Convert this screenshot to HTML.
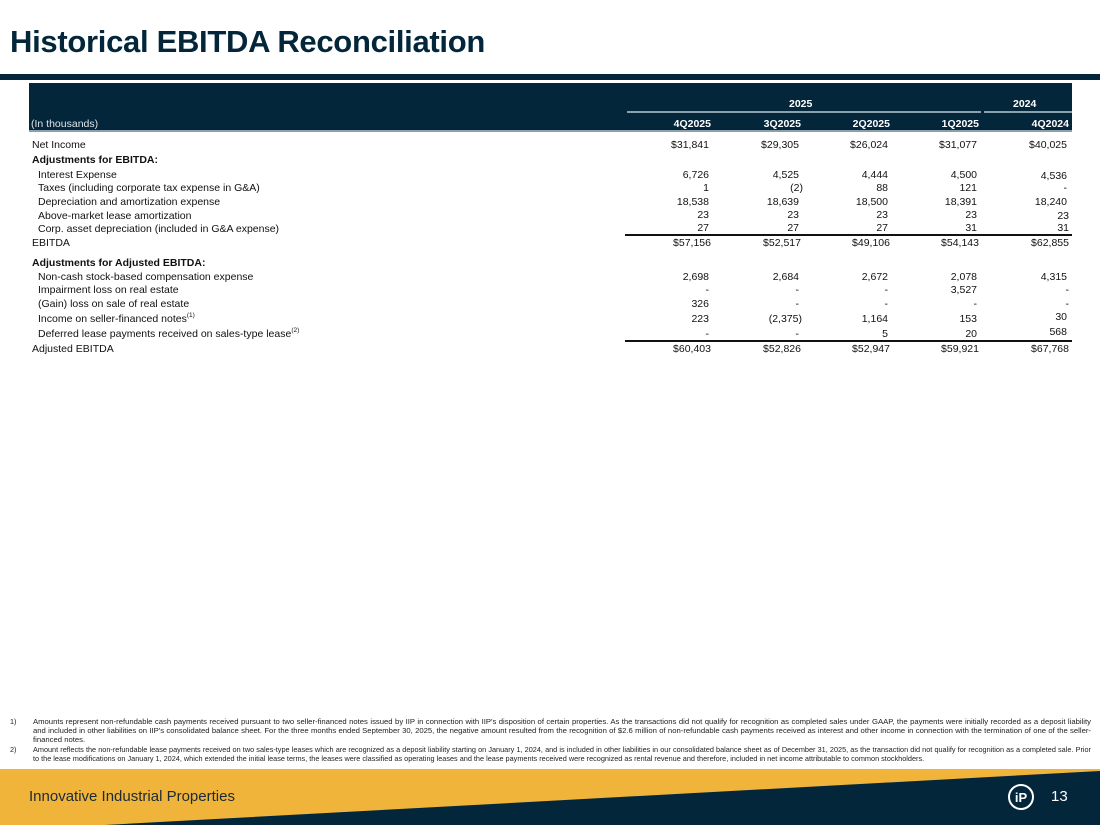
<!DOCTYPE html>
<html><head><meta charset="utf-8"><style>
*{margin:0;padding:0;box-sizing:border-box}
body{width:1100px;height:825px;overflow:hidden;background:#fff;font-family:"Liberation Sans",sans-serif;color:#111;position:relative}
.a{position:absolute;white-space:nowrap}
h1{position:absolute;left:10px;top:24px;font-size:31px;font-weight:bold;color:#03263a;letter-spacing:-0.3px}
.lbl{position:absolute;left:32px;font-size:10.5px;line-height:12px}
.ind{left:38px}
.b{font-weight:bold}
.v{position:absolute;font-size:10.5px;line-height:12px;text-align:right;width:80px}
.hd{position:absolute;font-size:10.5px;font-weight:bold;color:#fff;text-align:right;width:80px}
.fn{position:absolute;font-size:7.3px;line-height:9px;color:#222}
sup{font-size:6.5px;vertical-align:5px;line-height:0}
</style></head><body>
<h1>Historical EBITDA Reconciliation</h1>
<div class="a" style="left:0;top:74px;width:1100px;height:6px;background:#03263a"></div>
<div class="a" style="left:29px;top:83px;width:1043px;height:48px;background:#03263a"></div>
<div class="a" style="left:29px;top:130px;width:1043px;height:1.5px;background:#8aa0ad"></div>
<div class="a" style="left:627px;top:111px;width:354px;height:2px;background:#8aa0ad"></div>
<div class="a" style="left:984px;top:111px;width:88px;height:2px;background:#8aa0ad"></div>
<div class="a" style="left:31px;top:118px;font-size:10.5px;color:#dfe6ea">(In thousands)</div>
<div class="a b" style="left:789px;top:98px;font-size:10.5px;color:#fff">2025</div>
<div class="a b" style="left:1013px;top:98px;font-size:10.5px;color:#fff">2024</div>
<div class="hd" style="left:631px;top:118px">4Q2025</div>
<div class="hd" style="left:721px;top:118px">3Q2025</div>
<div class="hd" style="left:810px;top:118px">2Q2025</div>
<div class="hd" style="left:899px;top:118px">1Q2025</div>
<div class="hd" style="left:989px;top:118px">4Q2024</div>

<div class="lbl" style="top:139px">Net Income</div>
<div class="lbl b" style="top:154px">Adjustments for EBITDA:</div>
<div class="lbl ind" style="top:169px">Interest Expense</div>
<div class="lbl ind" style="top:182px">Taxes (including corporate tax expense in G&amp;A)</div>
<div class="lbl ind" style="top:196px">Depreciation and amortization expense</div>
<div class="lbl ind" style="top:210px">Above-market lease amortization</div>
<div class="lbl ind" style="top:223px">Corp. asset depreciation (included in G&amp;A expense)</div>
<div class="lbl" style="top:237px">EBITDA</div>
<div class="lbl b" style="top:257px">Adjustments for Adjusted EBITDA:</div>
<div class="lbl ind" style="top:271px">Non-cash stock-based compensation expense</div>
<div class="lbl ind" style="top:284px">Impairment loss on real estate</div>
<div class="lbl ind" style="top:298px">(Gain) loss on sale of real estate</div>
<div class="lbl ind" style="top:313px">Income on seller-financed notes<sup>(1)</sup></div>
<div class="lbl ind" style="top:328px">Deferred lease payments received on sales-type lease<sup>(2)</sup></div>
<div class="lbl" style="top:343px">Adjusted EBITDA</div>

<div class="a" style="left:625px;top:234px;width:447px;height:1.5px;background:#111"></div>
<div class="a" style="left:625px;top:340px;width:447px;height:2px;background:#111"></div>

<div class="v" style="left:629px;top:139px">$31,841</div><div class="v" style="left:719px;top:139px">$29,305</div><div class="v" style="left:808px;top:139px">$26,024</div><div class="v" style="left:897px;top:139px">$31,077</div><div class="v" style="left:987px;top:139px">$40,025</div>
<div class="v" style="left:629px;top:169px">6,726</div><div class="v" style="left:719px;top:169px">4,525</div><div class="v" style="left:808px;top:169px">4,444</div><div class="v" style="left:897px;top:169px">4,500</div><div class="v" style="left:987px;top:170px">4,536</div>
<div class="v" style="left:629px;top:182px">1</div><div class="v" style="left:723px;top:182px">(2)</div><div class="v" style="left:808px;top:182px">88</div><div class="v" style="left:897px;top:182px">121</div><div class="v" style="left:987px;top:182px">-</div>
<div class="v" style="left:629px;top:196px">18,538</div><div class="v" style="left:719px;top:196px">18,639</div><div class="v" style="left:808px;top:196px">18,500</div><div class="v" style="left:897px;top:196px">18,391</div><div class="v" style="left:987px;top:196px">18,240</div>
<div class="v" style="left:629px;top:209px">23</div><div class="v" style="left:719px;top:209px">23</div><div class="v" style="left:808px;top:209px">23</div><div class="v" style="left:897px;top:209px">23</div><div class="v" style="left:989px;top:210px">23</div>
<div class="v" style="left:629px;top:222px">27</div><div class="v" style="left:719px;top:222px">27</div><div class="v" style="left:808px;top:222px">27</div><div class="v" style="left:897px;top:222px">31</div><div class="v" style="left:989px;top:222px">31</div>
<div class="v" style="left:631px;top:237px">$57,156</div><div class="v" style="left:721px;top:237px">$52,517</div><div class="v" style="left:810px;top:237px">$49,106</div><div class="v" style="left:899px;top:237px">$54,143</div><div class="v" style="left:989px;top:237px">$62,855</div>
<div class="v" style="left:629px;top:271px">2,698</div><div class="v" style="left:719px;top:271px">2,684</div><div class="v" style="left:808px;top:271px">2,672</div><div class="v" style="left:897px;top:271px">2,078</div><div class="v" style="left:987px;top:271px">4,315</div>
<div class="v" style="left:629px;top:284px">-</div><div class="v" style="left:719px;top:284px">-</div><div class="v" style="left:808px;top:284px">-</div><div class="v" style="left:897px;top:284px">3,527</div><div class="v" style="left:989px;top:284px">-</div>
<div class="v" style="left:629px;top:298px">326</div><div class="v" style="left:719px;top:298px">-</div><div class="v" style="left:808px;top:298px">-</div><div class="v" style="left:897px;top:298px">-</div><div class="v" style="left:989px;top:298px">-</div>
<div class="v" style="left:629px;top:313px">223</div><div class="v" style="left:722px;top:313px">(2,375)</div><div class="v" style="left:808px;top:313px">1,164</div><div class="v" style="left:897px;top:313px">153</div><div class="v" style="left:987px;top:311px">30</div>
<div class="v" style="left:629px;top:328px">-</div><div class="v" style="left:719px;top:328px">-</div><div class="v" style="left:808px;top:328px">5</div><div class="v" style="left:897px;top:328px">20</div><div class="v" style="left:987px;top:326px">568</div>
<div class="v" style="left:631px;top:343px">$60,403</div><div class="v" style="left:721px;top:343px">$52,826</div><div class="v" style="left:810px;top:343px">$52,947</div><div class="v" style="left:899px;top:343px">$59,921</div><div class="v" style="left:989px;top:343px">$67,768</div>

<div class="fn" style="left:10px;top:717px">1)</div>
<div class="fn" style="left:33px;top:717px;width:1058px;text-align:justify;white-space:normal;font-size:7.7px">Amounts represent non-refundable cash payments received pursuant to two seller-financed notes issued by IIP in connection with IIP's disposition of certain properties. As the transactions did not qualify for recognition as completed sales under GAAP, the payments were initially recorded as a deposit liability and included in other liabilities on IIP's consolidated balance sheet. For the three months ended September 30, 2025, the negative amount resulted from the recognition of $2.6 million of non-refundable cash payments received as interest and other income in connection with the termination of one of the seller-financed notes.</div>
<div class="fn" style="left:10px;top:745px">2)</div>
<div class="fn" style="left:33px;top:745px;width:1058px;text-align:justify;white-space:normal">Amount reflects the non-refundable lease payments received on two sales-type leases which are recognized as a deposit liability starting on January 1, 2024, and is included in other liabilities in our consolidated balance sheet as of December 31, 2025, as the transaction did not qualify for recognition as a completed sale. Prior to the lease modifications on January 1, 2024, which extended the initial lease terms, the leases were classified as operating leases and the lease payments received were recognized as rental revenue and therefore, included in net income attributable to common stockholders.</div>

<svg class="a" style="left:0;top:769px" width="1100" height="56">
<rect x="0" y="0" width="1100" height="56" fill="#f1b43a"/>
<polygon points="105,56 1100,2 1100,56" fill="#03263a"/>
<circle cx="1021" cy="28" r="12" fill="none" stroke="#fff" stroke-width="2"/>
<text x="1021" y="33" font-family="Liberation Sans,sans-serif" font-size="13" font-weight="bold" fill="#fff" text-anchor="middle">iP</text>
</svg>
<div class="a" style="left:29px;top:788px;font-size:15px;color:#1a2a36">Innovative Industrial Properties</div>
<div class="a" style="left:1051px;top:788px;font-size:15px;color:#fff">13</div>
</body></html>
